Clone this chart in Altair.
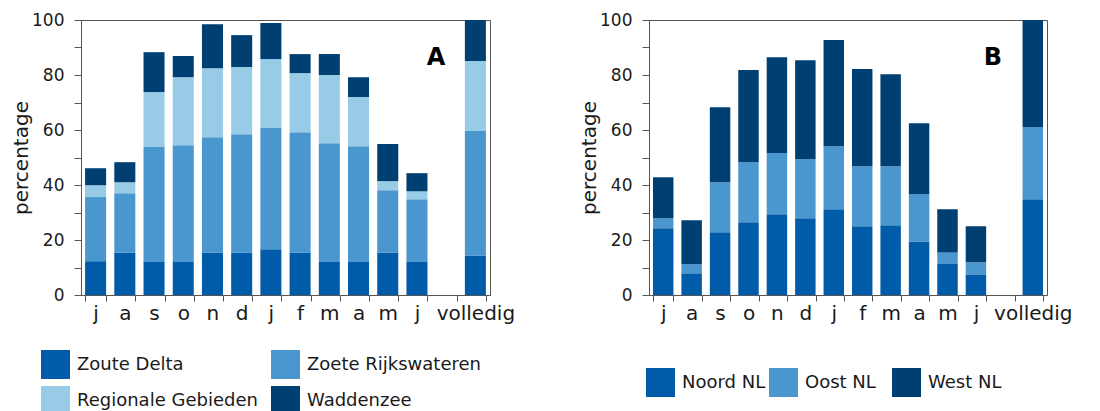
import json
import altair as alt
import pandas as pd

# ---- data -------------------------------------------------------------
x_labels = ["j", "a", "s", "o", "n", "d", "j", "f", "m", "a", "m", "j", "", "volledig"]
bar_slots = [0, 1, 2, 3, 4, 5, 6, 7, 8, 9, 10, 11, 13]

a_series = ["Zoute Delta", "Zoete Rijkswateren", "Regionale Gebieden", "Waddenzee"]
zoute_delta = [12.3, 15.5, 12.0, 12.0, 15.5, 15.5, 16.6, 15.5, 12.0, 12.0, 15.5, 12.0, 14.4]
zoete_rijkswateren = [23.3, 21.5, 41.8, 42.5, 41.9, 43.0, 44.1, 43.7, 43.2, 42.1, 22.6, 22.8, 45.2]
regionale_gebieden = [4.3, 4.0, 20.0, 24.7, 25.1, 24.4, 25.1, 21.5, 24.8, 17.9, 3.3, 2.9, 25.5]
waddenzee = [6.2, 7.3, 14.5, 7.7, 16.0, 11.6, 13.1, 6.9, 7.6, 7.2, 13.5, 6.6, 14.9]

b_series = ["Noord NL", "Oost NL", "West NL"]
noord_nl = [24.3, 7.9, 22.8, 26.5, 29.4, 27.9, 31.2, 25.0, 25.4, 19.5, 11.5, 7.5, 34.8]
oost_nl = [3.6, 3.3, 18.2, 21.8, 22.2, 21.5, 22.9, 21.8, 21.4, 17.2, 4.0, 4.4, 26.2]
west_nl = [14.9, 16.0, 27.3, 33.5, 34.9, 36.0, 38.6, 35.4, 33.5, 25.8, 15.7, 13.1, 39.0]

colors_a = ["#005CA9", "#4A97D0", "#98CBE6", "#003F72"]
colors_b = ["#005CA9", "#4A97D0", "#003F72"]

FONT = "DejaVu Sans"
TXT = "#1a1a1a"
AX = "#555555"


def table(series, values):
    rows = []
    for k, (name, vals) in enumerate(zip(series, values)):
        for slot, v in zip(bar_slots, vals):
            rows.append({"slot": slot, "serie": name, "k": k, "value": v})
    return pd.DataFrame(rows)


df_a = table(a_series, [zoute_delta, zoete_rijkswateren, regionale_gebieden, waddenzee])
df_b = table(b_series, [noord_nl, oost_nl, west_nl])

label_expr = json.dumps(x_labels) + "[datum.value]"


def panel(df, series, colors, letter, w, h, lx, ly, cols, colpad, letter_x):
    x = alt.X(
        "slot:O",
        scale=alt.Scale(domain=list(range(len(x_labels))), paddingInner=0.28, paddingOuter=0.14),
        axis=alt.Axis(
            title=None, labelExpr=label_expr, labelAngle=0, tickBand="extent",
            labelFontSize=20, labelColor=TXT, labelOverlap=False, labelBound=False,
            tickSize=6, tickColor=AX, domainColor=AX, labelPadding=2,
        ),
    )
    y = alt.Y(
        "value:Q",
        stack="zero",
        scale=alt.Scale(domain=[0, 100], nice=False, clamp=True),
        axis=alt.Axis(
            title="percentage", values=list(range(0, 101, 10)),
            labelExpr="datum.value % 20 == 0 ? datum.label : ''",
            labelFontSize=17, labelColor=TXT, titleFontSize=20, titleFontWeight="normal",
            titleColor=TXT, titlePadding=0, grid=False, tickSize=7, tickColor=AX,
            domainColor=AX, labelPadding=10, labelFlush=False,
        ),
    )
    bars = alt.Chart(df).mark_bar().encode(
        x=x,
        y=y,
        color=alt.Color(
            "serie:N",
            scale=alt.Scale(domain=series, range=colors),
            legend=alt.Legend(
                title=None, orient="none", legendX=lx, legendY=ly, columns=cols,
                direction="horizontal",
                symbolType="square", symbolSize=841, symbolStrokeWidth=0,
                symbolOpacity=1, labelFontSize=18, labelColor=TXT, labelOffset=7,
                labelLimit=400, rowPadding=7, columnPadding=colpad, gridAlign="all",
                padding=0,
            ),
        ),
        order=alt.Order("k:Q", sort="ascending"),
    )
    tag = alt.Chart(pd.DataFrame({"t": [letter]})).mark_text(
        font=FONT, fontSize=24, fontWeight="bold", color="#000000",
        align="center", baseline="alphabetic",
    ).encode(text="t:N", x=alt.value(letter_x), y=alt.value(45))
    return alt.layer(bars, tag).properties(width=w, height=h)


chart_a = panel(df_a, a_series, colors_a, "A", 409, 275, -40, 330, 2, 13, 355)
chart_b = panel(df_b, b_series, colors_b, "B", 398, 275, -3, 348, 3, 3, 344)

chart = (
    alt.hconcat(chart_a, chart_b, spacing=63)
    .resolve_scale(color="independent")
    .resolve_legend(color="independent")
    .properties(padding={"left": 3, "top": 2, "right": 5, "bottom": 5})
    .configure(font=FONT)
    .configure_view(stroke=AX, strokeWidth=1)
)

chart.save("out.html", embed_options={"renderer": "svg", "actions": False})
